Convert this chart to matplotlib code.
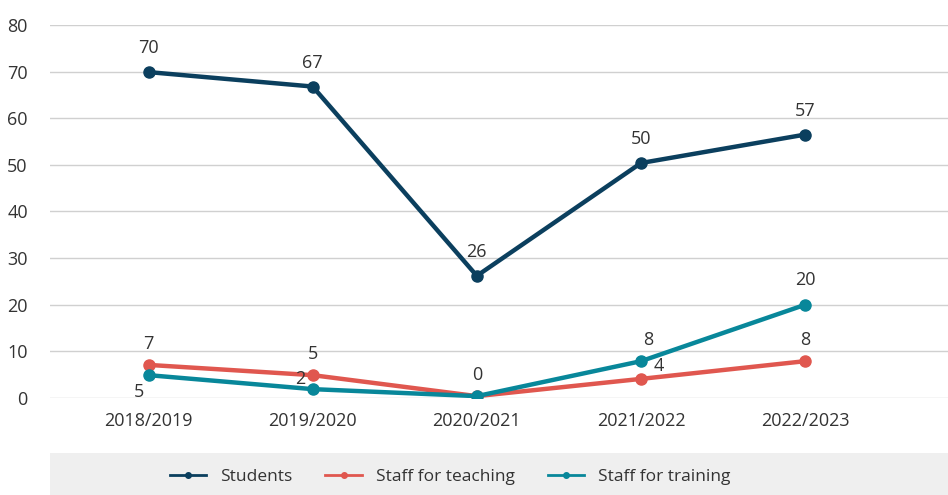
import matplotlib.pyplot as plt
from matplotlib.patches import Rectangle

plt.rcParams['font.family'] = ['Open Sans', 'DejaVu Sans']

years = ["2018/2019", "2019/2020", "2020/2021", "2021/2022", "2022/2023"]
students = [69.9, 66.8, 26.2, 50.4, 56.5]
teaching = [7.1, 4.9, 0.4, 4.1, 7.9]
training = [4.9, 1.9, 0.4, 7.9, 20.0]
lab_students = ["70", "67", "26", "50", "57"]
lab_teaching = ["7", "5", "", "4", "8"]
lab_training = ["5", "2", "0", "8", "20"]

c_stu = "#0b3f5e"
c_tea = "#e0574f"
c_tra = "#08879a"

fig = plt.figure(figsize=(9.48, 4.95), dpi=100)
ax = fig.add_axes([50/948, 1-398/495, 898/948, 373/495])

x = list(range(len(years)))
ax.plot(x, students, color=c_stu, lw=3.2, marker="o", ms=8, label="Students", zorder=3)
ax.plot(x, teaching, color=c_tea, lw=3.2, marker="o", ms=8, label="Staff for teaching", zorder=3)
ax.plot(x, training, color=c_tra, lw=3.2, marker="o", ms=8, label="Staff for training", zorder=4)

# label offsets in points (dx, dy)
off_stu = [(0, 17)] * 5
off_tea = [(0, 15), (0, 15), (0, 0), (13, 9), (0, 15)]
off_tra = [(-7, -12), (-9, 7), (0, 15), (5, 15), (0, 18)]

for vals, labs, offs in [(students, lab_students, off_stu),
                         (teaching, lab_teaching, off_tea),
                         (training, lab_training, off_tra)]:
    for i, (v, t) in enumerate(zip(vals, labs)):
        if t:
            ax.annotate(t, (i, v), xytext=offs[i], textcoords="offset points",
                        ha="center", va="center", fontsize=13, color="#333333")

ax.set_xlim(-0.6, 4.87)
ax.set_ylim(0, 80)
ax.set_yticks(range(0, 81, 10))
ax.set_xticks(x)
ax.set_xticklabels(years)
ax.tick_params(length=0, labelsize=13, colors="#333333")
ax.tick_params(axis="x", pad=10)
ax.tick_params(axis="y", pad=16)
ax.grid(axis="y", color="#d0d0d0", lw=1)
ax.set_axisbelow(True)
for s in ax.spines.values():
    s.set_visible(False)

fig.patches.append(Rectangle((50/948, 0), 898/948, 42/495, transform=fig.transFigure,
                             facecolor="#efefef", edgecolor="none", zorder=0))
leg = fig.legend(loc="center", bbox_to_anchor=(450/948, 1-477/495), ncol=3, frameon=False,
                 fontsize=12.5, handlelength=2.1, columnspacing=1.9, markerscale=0.5,
                 labelcolor="#333333")
for h in leg.legend_handles:
    h.set_linewidth(2)

fig.savefig("out.png", dpi=100)
